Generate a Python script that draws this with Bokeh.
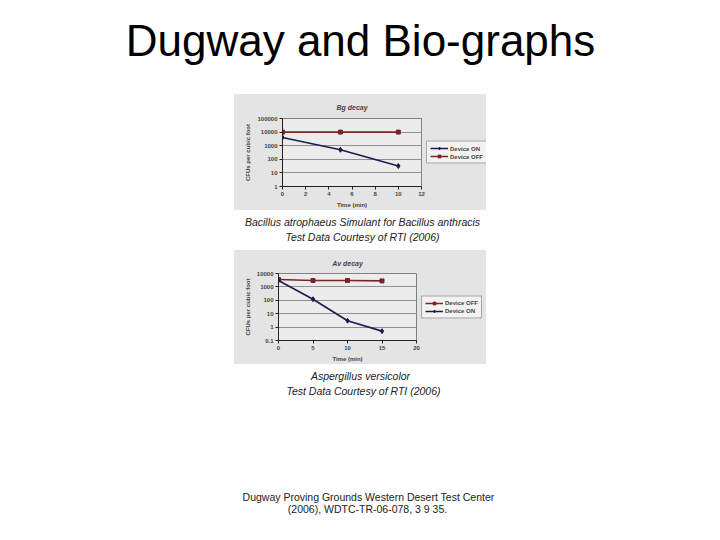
from bokeh.plotting import figure
from bokeh.layouts import column, row
from bokeh.models import Range1d, Spacer, Legend, LegendItem, FixedTicker, NumeralTickFormatter
from bokeh.core.properties import value
from bokeh.embed import file_html
from bokeh.resources import INLINE

# ---------------- data ----------------
slide_title = "Dugway and Bio-graphs"

bg_title = "Bg decay"
bg_time = [0, 5, 10]
bg_on = [4000, 500, 32]
bg_off = [10000, 10000, 10000]
bg_xticks = [0, 2, 4, 6, 8, 10, 12]
bg_yticks = [1, 10, 100, 1000, 10000, 100000]

av_title = "Av decay"
av_time = [0, 5, 10, 15]
av_off = [3600, 3000, 3000, 2800]
av_on = [3000, 120, 3.0, 0.5]
av_xticks = [0, 5, 10, 15, 20]
av_yticks = [0.1, 1, 10, 100, 1000, 10000]

x_label = "Time (min)"
y_label = "CFUs per cubic foot"
label_on = "Device ON"
label_off = "Device OFF"

caption1 = ["Bacillus atrophaeus Simulant for Bacillus anthracis",
            "Test Data Courtesy of RTI (2006)"]
caption2 = ["Aspergillus versicolor",
            "Test Data Courtesy of RTI (2006)"]
source_note = ["Dugway Proving Grounds Western Desert Test Center",
               "(2006), WDTC-TR-06-078, 3 9 35."]

FONT = "Liberation Sans"
ON_COLOR = "#1c1c50"
OFF_COLOR = "#7a2424"
CHART_BG = "#e4e4e4"


def canvas(h, top):
    p = figure(width=720, height=h, x_range=Range1d(0, 720), y_range=Range1d(top + h, top),
               output_backend="svg", toolbar_location=None, min_border=0,
               x_axis_location=None, y_axis_location=None)
    p.grid.visible = False
    p.outline_line_color = None
    p.background_fill_color = "white"
    p.border_fill_color = "white"
    return p


def chart(title, xs, ys_list, colors, markers, xr, yr, xticks, yticks,
          w, h, ml, mr, mt, mb, standoff):
    p = figure(width=w, height=h, y_axis_type="log", x_range=Range1d(*xr), y_range=Range1d(*yr),
               output_backend="svg", toolbar_location=None, title=title,
               min_border_left=ml, min_border_right=mr, min_border_top=mt, min_border_bottom=mb)
    p.border_fill_color = CHART_BG
    p.background_fill_color = "#ececec"
    p.outline_line_color = "#808080"
    p.outline_line_width = 1
    p.title.text_font = FONT
    p.title.text_font_size = "7px"
    p.title.text_font_style = "bold italic"
    p.title.align = "center"
    p.title.standoff = standoff
    p.xgrid.visible = False
    p.ygrid.grid_line_color = "#909090"
    p.ygrid.grid_line_width = 1
    p.xaxis.ticker = FixedTicker(ticks=xticks)
    p.yaxis.ticker = FixedTicker(ticks=yticks)
    p.yaxis.formatter = NumeralTickFormatter(format="0.[0]")
    p.xaxis.axis_label = x_label
    p.yaxis.axis_label = y_label
    for ax in (p.xaxis[0], p.yaxis[0]):
        ax.axis_label_text_font = FONT
        ax.axis_label_text_font_size = "6px"
        ax.axis_label_text_font_style = "bold"
        ax.axis_label_standoff = 3
        ax.major_label_text_font = FONT
        ax.major_label_text_font_size = "6px"
        ax.major_label_text_font_style = "bold"
        ax.major_label_standoff = 2
        ax.major_tick_out = 3
        ax.major_tick_in = 0
        ax.minor_tick_out = 0
        ax.minor_tick_in = 0
        ax.axis_line_color = "#222222"
        ax.major_tick_line_color = "#222222"
    for ys, col, mk in zip(ys_list, colors, markers):
        p.line(xs, ys, line_color=col, line_width=1.6)
        p.scatter(xs, ys, marker=mk, size=5 if mk == "diamond" else 4,
                  fill_color=col, line_color=col)
    return p


def legend_panel(xs, ys_list, labels, colors, markers, w, h):
    # the series are drawn here far outside the visible range; only the legend shows
    p = figure(width=w, height=h, x_range=Range1d(1000, 1001), y_range=Range1d(1000, 1001),
               output_backend="svg", toolbar_location=None, min_border=0,
               x_axis_location=None, y_axis_location=None)
    p.grid.visible = False
    p.outline_line_color = None
    p.background_fill_color = CHART_BG
    p.border_fill_color = CHART_BG
    items = []
    for ys, lab, col, mk in zip(ys_list, labels, colors, markers):
        ln = p.line(xs, ys, line_color=col, line_width=1.6)
        sc = p.scatter(xs, ys, marker=mk, size=5 if mk == "diamond" else 4,
                       fill_color=col, line_color=col)
        items.append(LegendItem(label=lab, renderers=[ln, sc]))
    leg = Legend(items=items, location="center_left")
    leg.label_text_font = FONT
    leg.label_text_font_size = "6px"
    leg.label_text_font_style = "bold"
    leg.label_standoff = 2
    leg.glyph_width = 18
    leg.glyph_height = 7
    leg.label_height = 7
    leg.spacing = 1
    leg.padding = 3
    leg.margin = 0
    leg.border_line_color = "#555555"
    leg.background_fill_color = "#f2f2f2"
    leg.background_fill_alpha = 1
    p.add_layout(leg)
    return p


# ---------------- header ----------------
head = canvas(94, 0)
head.text(x=[360], y=[40], text=[slide_title], text_align="center", text_baseline="middle",
          text_font=value(FONT), text_font_size="44px", text_color="black")

# ---------------- chart 1 ----------------
c1 = chart(bg_title, bg_time, [bg_on, bg_off], [ON_COLOR, OFF_COLOR],
           ["diamond", "square"], (0, 12), (1, 100000), bg_xticks, bg_yticks,
           192, 116, 48, 5, 24, 22, 15)
l1 = legend_panel(bg_time, [bg_on, bg_off], [label_on, label_off], [ON_COLOR, OFF_COLOR],
                  ["diamond", "square"], 60, 116)

# ---------------- caption 1 ----------------
cap1 = canvas(40, 210)
cap1.text(x=[362, 362], y=[221, 236], text=caption1, text_align="center", text_baseline="middle",
          text_font=value(FONT), text_font_size="10.5px", text_font_style="italic", text_color="#222222")

# ---------------- chart 2 ----------------
c2 = chart(av_title, av_time, [av_off, av_on], [OFF_COLOR, ON_COLOR],
           ["square", "diamond"], (0, 20), (0.1, 10000), av_xticks, av_yticks,
           187, 114, 44, 5, 23, 22, 14)
l2 = legend_panel(av_time, [av_off, av_on], [label_off, label_on], [OFF_COLOR, ON_COLOR],
                  ["square", "diamond"], 65, 114)

# ---------------- bottom ----------------
bot = canvas(176, 364)
bot.text(x=[360, 363], y=[375, 390], text=caption2, text_align="center", text_baseline="middle",
         text_font=value(FONT), text_font_size="10.5px", text_font_style="italic", text_color="#222222")
bot.text(x=[368, 367], y=[496, 508], text=source_note, text_align="center", text_baseline="middle",
         text_font=value(FONT), text_font_size="10.5px", text_color="#222222")

layout = column(
    head,
    row(Spacer(width=234, height=116), row(c1, l1, styles={"background-color": CHART_BG})),
    cap1,
    row(Spacer(width=234, height=114), row(c2, l2, styles={"background-color": CHART_BG})),
    bot,
)

open("out.html", "w").write(file_html(layout, INLINE))
